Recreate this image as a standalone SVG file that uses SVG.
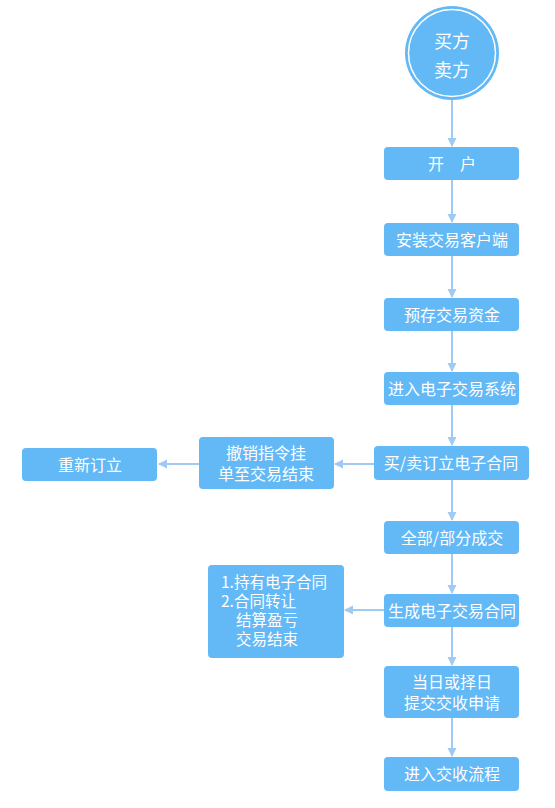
<svg xmlns="http://www.w3.org/2000/svg" width="555" height="808" viewBox="0 0 555 808">
<defs>
<marker id="ah" markerWidth="10" markerHeight="10" refX="8" refY="5" orient="auto" markerUnits="userSpaceOnUse">
<path d="M0,0.5 L9,5 L0,9.5 Z" fill="#9fcaf3"/>
</marker>
</defs>
<style>
.box{fill:#63b8f6;}
.t{fill:#fff;font-family:"Noto Sans CJK SC","Noto Sans",sans-serif;font-size:16px;text-anchor:middle;}
.tl{fill:#fff;font-family:"Noto Sans CJK SC","Noto Sans",sans-serif;font-size:15.5px;}
.c{stroke:#9fcaf3;stroke-width:2;fill:none;marker-end:url(#ah);}
</style>
<rect width="555" height="808" fill="#fff"/>
<g id="connectors">
<line class="c" x1="452" y1="100" x2="452" y2="146"/>
<line class="c" x1="452" y1="180" x2="452" y2="222"/>
<line class="c" x1="452" y1="256" x2="452" y2="297"/>
<line class="c" x1="452" y1="331" x2="452" y2="371"/>
<line class="c" x1="452" y1="405" x2="452" y2="445"/>
<line class="c" x1="452" y1="480" x2="452" y2="520"/>
<line class="c" x1="452" y1="554" x2="452" y2="593"/>
<line class="c" x1="452" y1="627" x2="452" y2="665"/>
<line class="c" x1="452" y1="718" x2="452" y2="756"/>
<line class="c" x1="374" y1="464" x2="335" y2="464"/>
<line class="c" x1="199" y1="464" x2="159" y2="464"/>
<line class="c" x1="384" y1="610" x2="345" y2="610"/>
</g>
<g id="start">
<circle cx="452" cy="53" r="47" fill="#63b8f6"/>
<circle cx="452" cy="53" r="43.5" fill="none" stroke="#fff" stroke-width="1.5"/>
<text class="t" x="452" y="48" style="font-size:18px">买方</text>
<text class="t" x="452" y="77" style="font-size:18px">卖方</text>
</g>
<g id="n1"><rect class="box" x="384" y="147" width="135" height="33" rx="4"/><text class="t" x="452" y="169.5">开　户</text></g>
<g id="n2"><rect class="box" x="384" y="223" width="135" height="33" rx="4"/><text class="t" x="452" y="245.5">安装交易客户端</text></g>
<g id="n3"><rect class="box" x="384" y="298" width="135" height="33" rx="4"/><text class="t" x="452" y="320.5">预存交易资金</text></g>
<g id="n4"><rect class="box" x="384" y="372" width="135" height="33" rx="4"/><text class="t" x="452" y="394.5">进入电子交易系统</text></g>
<g id="n5"><rect class="box" x="374" y="446" width="155" height="34" rx="4"/><text class="t" x="451" y="469">买/卖订立电子合同</text></g>
<g id="n6"><rect class="box" x="199" y="437" width="135" height="52" rx="4"/><text class="t" x="266" y="459">撤销指令挂</text><text class="t" x="266" y="480">单至交易结束</text></g>
<g id="n7"><rect class="box" x="22" y="448" width="135" height="33" rx="4"/><text class="t" x="90" y="470.5">重新订立</text></g>
<g id="n8"><rect class="box" x="384" y="521" width="135" height="33" rx="4"/><text class="t" x="452" y="543.5">全部/部分成交</text></g>
<g id="n9"><rect class="box" x="384" y="594" width="135" height="33" rx="4"/><text class="t" x="452" y="616.5">生成电子交易合同</text></g>
<g id="n10"><rect class="box" x="208" y="565" width="136" height="93" rx="4"/>
<text class="tl" x="221" y="588">1.持有电子合同</text>
<text class="tl" x="221" y="607">2.合同转让</text>
<text class="tl" x="236" y="626">结算盈亏</text>
<text class="tl" x="236" y="645">交易结束</text></g>
<g id="n11"><rect class="box" x="384" y="666" width="135" height="52" rx="4"/><text class="t" x="452" y="688">当日或择日</text><text class="t" x="452" y="709">提交交收申请</text></g>
<g id="n12"><rect class="box" x="384" y="757" width="135" height="34" rx="4"/><text class="t" x="452" y="780">进入交收流程</text></g>
</svg>
